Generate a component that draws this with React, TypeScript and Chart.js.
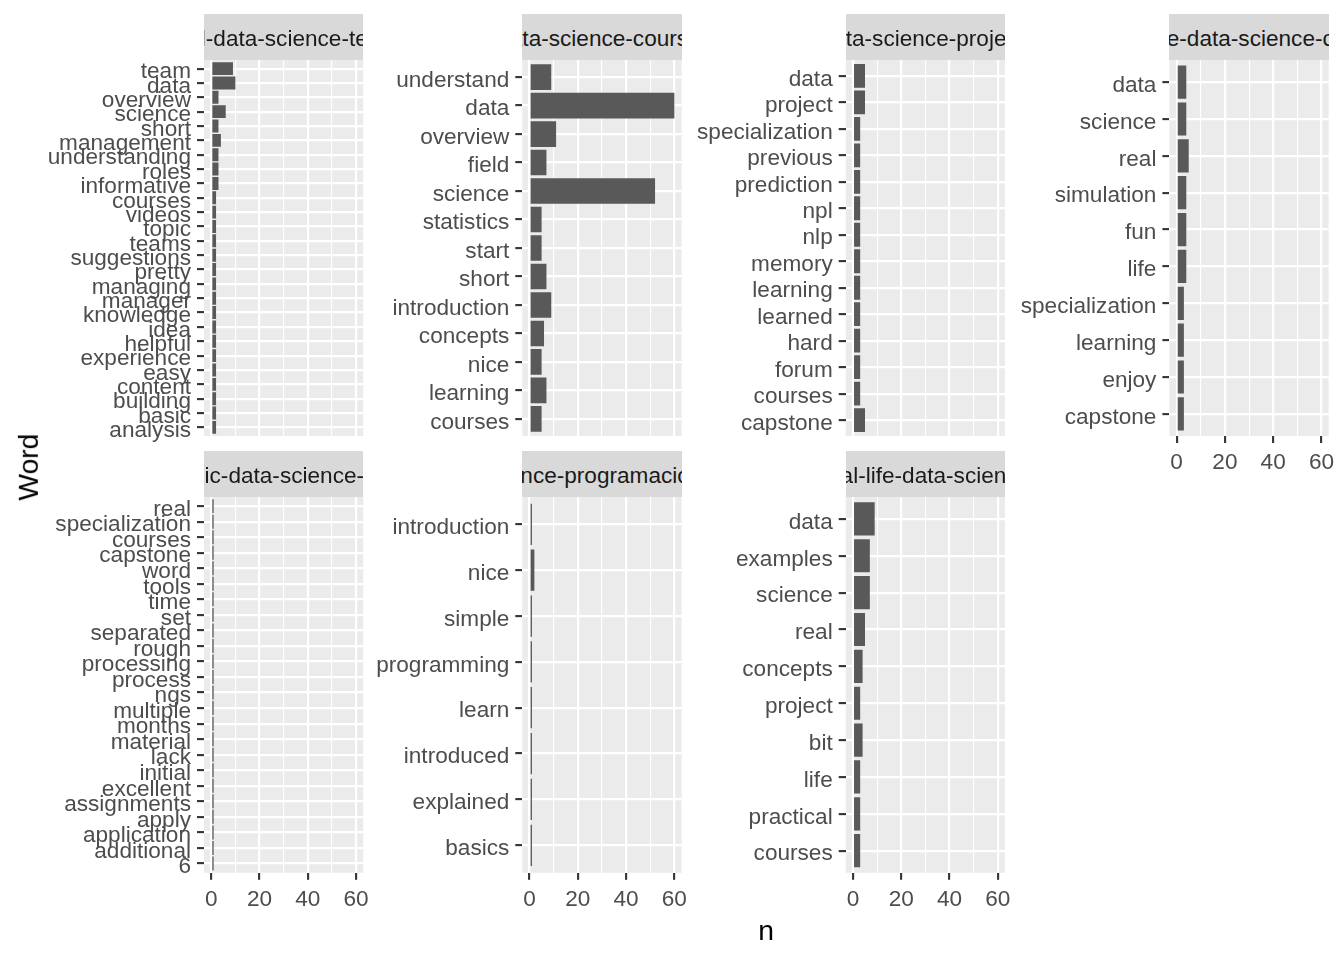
import { useEffect, useRef } from 'react'
import { Chart, registerables } from 'chart.js'

Chart.register(...registerables)

const FONT = '"Liberation Sans", Arial, Helvetica, sans-serif'

// word counts per course, listed top to bottom as they appear in each facet
const teamWords = ['team', 'data', 'overview', 'science', 'short', 'management', 'understanding', 'roles', 'informative', 'courses', 'videos', 'topic', 'teams', 'suggestions', 'pretty', 'managing', 'manager', 'knowledge', 'idea', 'helpful', 'experience', 'easy', 'content', 'building', 'basic', 'analysis']
const teamCounts = [9, 10, 3, 6, 3, 4, 3, 3, 3, 2, 2, 2, 2, 2, 2, 2, 2, 2, 2, 2, 2, 2, 2, 2, 2, 2]

const courseWords = ['understand', 'data', 'overview', 'field', 'science', 'statistics', 'start', 'short', 'introduction', 'concepts', 'nice', 'learning', 'courses']
const courseCounts = [9, 60, 11, 7, 52, 5, 5, 7, 9, 6, 5, 7, 5]

const projectWords = ['data', 'project', 'specialization', 'previous', 'prediction', 'npl', 'nlp', 'memory', 'learning', 'learned', 'hard', 'forum', 'courses', 'capstone']
const projectCounts = [5, 5, 3, 3, 3, 3, 3, 3, 3, 3, 3, 3, 3, 5]

const capstoneWords = ['data', 'science', 'real', 'simulation', 'fun', 'life', 'specialization', 'learning', 'enjoy', 'capstone']
const capstoneCounts = [4, 4, 5, 4, 4, 4, 3, 3, 3, 3]

const genomicWords = ['real', 'specialization', 'courses', 'capstone', 'word', 'tools', 'time', 'set', 'separated', 'rough', 'processing', 'process', 'ngs', 'multiple', 'months', 'material', 'lack', 'initial', 'excellent', 'assignments', 'apply', 'application', 'additional', '6']
const genomicCounts = [1, 1, 1, 1, 1, 1, 1, 1, 1, 1, 1, 1, 1, 1, 1, 1, 1, 1, 1, 1, 1, 1, 1, 1]

const programWords = ['introduction', 'nice', 'simple', 'programming', 'learn', 'introduced', 'explained', 'basics']
const programCounts = [1, 2, 1, 1, 1, 1, 1, 1]

const realLifeWords = ['data', 'examples', 'science', 'real', 'concepts', 'project', 'bit', 'life', 'practical', 'courses']
const realLifeCounts = [9, 7, 7, 5, 4, 3, 4, 3, 3, 3]

const xTicks = [0, 20, 40, 60]

interface PanelSpec {
  title: string
  words: string[]
  counts: number[]
  col: number
  row: number
  showX: boolean
  nudge?: number
}

const panels: PanelSpec[] = [
  { title: 'real-data-science-team', words: teamWords, counts: teamCounts, col: 0, row: 0, showX: false },
  { title: 'data-science-course', words: courseWords, counts: courseCounts, col: 1, row: 0, showX: false, nudge: -3 },
  { title: 'data-science-project', words: projectWords, counts: projectCounts, col: 2, row: 0, showX: false, nudge: -3 },
  { title: 'executive-data-science-capstone', words: capstoneWords, counts: capstoneCounts, col: 3, row: 0, showX: true },
  { title: 'genomic-data-science-project', words: genomicWords, counts: genomicCounts, col: 0, row: 1, showX: true },
  { title: 'data-science-programacion-basica', words: programWords, counts: programCounts, col: 1, row: 1, showX: true },
  { title: 'real-life-data-science', words: realLifeWords, counts: realLifeCounts, col: 2, row: 1, showX: true },
]

// facet grid geometry
const colLeft = [204, 522.3, 845.7, 1169.4]
const canvasLeft = [40, 368, 690, 1012]
const rowTop = [60, 496.8]
const PANEL_W = 159.3
const PANEL_H = 376
const STRIP_H = 46

const panelBackground = {
  id: 'panelBackground',
  beforeDraw(chart: Chart) {
    const { ctx, chartArea: a } = chart
    ctx.save()
    ctx.fillStyle = '#EBEBEB'
    ctx.fillRect(a.left, a.top, a.right - a.left, a.bottom - a.top)
    ctx.restore()
  },
}

function Panel({ spec }: { spec: PanelSpec }) {
  const canvasRef = useRef<HTMLCanvasElement>(null)

  const left = canvasLeft[spec.col]
  const top = Math.floor(rowTop[spec.row] - 20)
  const padTop = rowTop[spec.row] - top
  const axisW = colLeft[spec.col] - left
  const right = Math.ceil(colLeft[spec.col] + PANEL_W + 18)
  const width = right - left
  const padRight = right - (colLeft[spec.col] + PANEL_W)
  const xAxisH = spec.showX ? 48 : 0
  const height = Math.ceil(padTop + PANEL_H + xAxisH + 20)
  const padBottom = height - xAxisH - padTop - PANEL_H

  useEffect(() => {
    if (!canvasRef.current) return
    const n = spec.words.length
    const zeroPad = (s: any) => {
      s.paddingTop = 0
      s.paddingBottom = 0
      s.paddingLeft = 0
      s.paddingRight = 0
    }

    const chart = new Chart(canvasRef.current, {
      type: 'bar',
      data: {
        datasets: [
          {
            data: spec.counts.map((c, i) => ({ x: c, y: n - i })),
            backgroundColor: '#595959',
            borderWidth: 0,
            categoryPercentage: 0.9,
            barPercentage: 1,
          },
        ],
      },
      options: {
        indexAxis: 'y',
        responsive: false,
        animation: false,
        layout: { padding: { top: padTop, right: padRight, bottom: padBottom, left: 0 } },
        plugins: {
          legend: { display: false },
          tooltip: { enabled: false },
        },
        scales: {
          x: {
            type: 'linear',
            min: -3,
            max: 63,
            offset: false,
            afterFit: (s: any) => {
              s.height = xAxisH
              zeroPad(s)
            },
            border: { display: false },
            grid: {
              color: '#FFFFFF',
              lineWidth: (ctx: any) => (ctx.tick && ctx.tick.value % 20 === 0 ? 2.2 : 1.1),
              drawTicks: spec.showX,
              tickLength: 7,
              tickWidth: 2.1,
              tickColor: (ctx: any) =>
                ctx.tick && xTicks.includes(ctx.tick.value) ? '#333333' : 'rgba(0,0,0,0)',
            },
            ticks: {
              display: spec.showX,
              stepSize: 10,
              includeBounds: false,
              autoSkip: false,
              maxRotation: 0,
              padding: 6.5,
              color: '#4D4D4D',
              font: { family: FONT, size: 22.6 },
              callback: (v: any) => (xTicks.includes(Number(v)) ? String(v) : ''),
            },
          },
          y: {
            type: 'linear',
            min: 0.4,
            max: n + 0.6,
            offset: false,
            afterFit: (s: any) => {
              s.width = axisW
              zeroPad(s)
            },
            border: { display: false },
            grid: {
              offset: false,
              color: '#FFFFFF',
              lineWidth: 2.2,
              tickLength: 7,
              tickWidth: 2.1,
              tickColor: '#333333',
            },
            ticks: {
              stepSize: 1,
              includeBounds: false,
              autoSkip: false,
              padding: 6,
              labelOffset: 3.5,
              color: '#4D4D4D',
              font: { family: FONT, size: 22.6 },
              callback: (v: any) => spec.words[n - Math.round(Number(v))] ?? '',
            },
          },
        },
      } as any,
      plugins: [panelBackground],
    })

    return () => {
      chart.destroy()
    }
  }, [spec])

  const stripTop = rowTop[spec.row] - STRIP_H

  return (
    <>
      <canvas
        ref={canvasRef}
        width={width}
        height={height}
        style={{ position: 'absolute', left, top, width, height }}
      />
      <div
        style={{
          position: 'absolute',
          left: colLeft[spec.col],
          top: stripTop,
          width: PANEL_W,
          height: STRIP_H,
          background: '#D9D9D9',
          overflow: 'hidden',
          display: 'flex',
          justifyContent: 'center',
          alignItems: 'center',
          boxSizing: 'border-box',
          paddingTop: 4,
        }}
      >
        <span
          style={{
            flexShrink: 0,
            whiteSpace: 'nowrap',
            fontFamily: FONT,
            fontSize: 22.6,
            color: '#1A1A1A',
            transform: `translateX(${spec.nudge ?? 0}px)`,
          }}
        >
          {spec.title}
        </span>
      </div>
    </>
  )
}

export default function App() {
  return (
    <div
      style={{
        position: 'absolute',
        left: 0,
        top: 0,
        width: 1344,
        height: 960,
        background: '#FFFFFF',
        overflow: 'hidden',
      }}
    >
      {panels.map(p => (
        <Panel key={p.title} spec={p} />
      ))}
      <div
        style={{
          position: 'absolute',
          left: 27.5 - 100,
          top: 467 - 14.15,
          width: 200,
          height: 28.3,
          lineHeight: '28.3px',
          textAlign: 'center',
          transform: 'rotate(-90deg)',
          fontFamily: FONT,
          fontSize: 28.3,
          color: '#000000',
        }}
      >
        Word
      </div>
      <div
        style={{
          position: 'absolute',
          left: 766 - 50,
          top: 916,
          width: 100,
          height: 28.3,
          lineHeight: '28.3px',
          textAlign: 'center',
          fontFamily: FONT,
          fontSize: 28.3,
          color: '#000000',
        }}
      >
        n
      </div>
    </div>
  )
}
